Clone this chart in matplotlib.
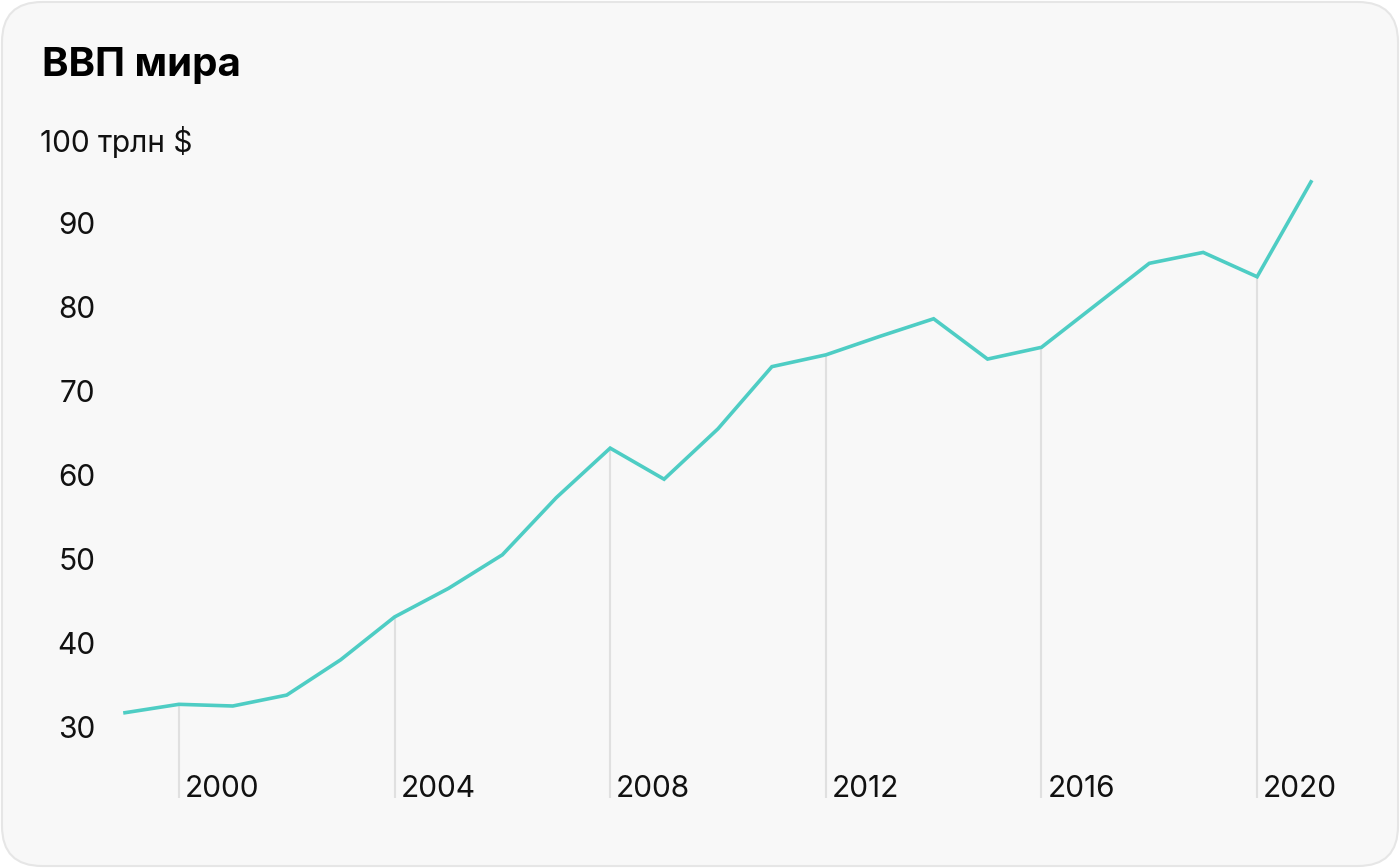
import matplotlib
matplotlib.use("Agg")
import matplotlib.pyplot as plt
from matplotlib.patches import FancyBboxPatch
from matplotlib import transforms

years = list(range(1999, 2022))
gdp = [31.7, 32.7, 32.5, 33.8, 38.0, 43.1, 46.5, 50.5, 57.3, 63.2, 59.5, 65.5,
       72.9, 74.3, 76.5, 78.6, 73.8, 75.2, 80.2, 85.2, 86.5, 83.6, 94.9]
year_ticks = [2000, 2004, 2008, 2012, 2016, 2020]
y_ticks = [30, 40, 50, 60, 70, 80, 90, 100]
y_tick_labels = ["30", "40", "50", "60", "70", "80", "90", "100 трлн $"]
title = "ВВП мира"

plt.rcParams['font.family'] = ['Inter', 'DejaVu Sans']

W, H = 1400, 868
fig = plt.figure(figsize=(W / 100, H / 100), dpi=100)
fig.patch.set_facecolor("white")

# background card
bg = fig.add_axes([0, 0, 1, 1], zorder=0)
bg.set_xlim(0, W)
bg.set_ylim(H, 0)
bg.axis("off")
bg.add_patch(FancyBboxPatch((2, 2), W - 4, H - 4,
                            boxstyle="round,pad=0,rounding_size=40",
                            facecolor="#f8f8f8", edgecolor="#e6e6e6", linewidth=1.5))

left_px, right_px = 125, 1311
top_px, bottom_px = 139, 798
ax = fig.add_axes([left_px / W, 1 - bottom_px / H,
                   (right_px - left_px) / W, (bottom_px - top_px) / H], zorder=1)
ax.set_xlim(1999, 2021)
ax.set_ylim(30 - 71 / 8.4, 100)
ax.axis("off")
ax.patch.set_alpha(0)
y0 = ax.get_ylim()[0]

# vertical markers
for yr in year_ticks:
    v = gdp[years.index(yr)]
    ax.plot([yr, yr], [y0, v], color="#e0e0e0", lw=1.5,
            zorder=1, clip_on=False, solid_capstyle="butt")

offset = transforms.ScaledTranslation(6 / 100, 1 / 100, fig.dpi_scale_trans)
for yr in year_ticks:
    ax.text(yr, y0, str(yr), transform=ax.transData + offset,
            ha="left", va="baseline", fontsize=21.5, color="#111111")

ax.plot(years, gdp, color="#4ecdc4", lw=2.6, zorder=3, clip_on=False,
        solid_joinstyle="miter")

# y tick labels
bt = transforms.blended_transform_factory(fig.transFigure, ax.transData)
yoff = transforms.ScaledTranslation(0, -3 / 100, fig.dpi_scale_trans)
for v, lab in zip(y_ticks, y_tick_labels):
    if v == 100:
        fig.text(40 / W, v, lab, transform=bt + yoff, ha="left", va="center",
                 fontsize=21.5, color="#111111")
    else:
        fig.text(95 / W, v, lab, transform=bt + yoff, ha="right", va="center",
                 fontsize=21.5, color="#111111")

fig.text(42 / W, 1 - 66 / H, title, ha="left", va="center",
         fontsize=29, fontweight="bold", color="#000000")

fig.savefig("out.png", dpi=100, facecolor="white")
